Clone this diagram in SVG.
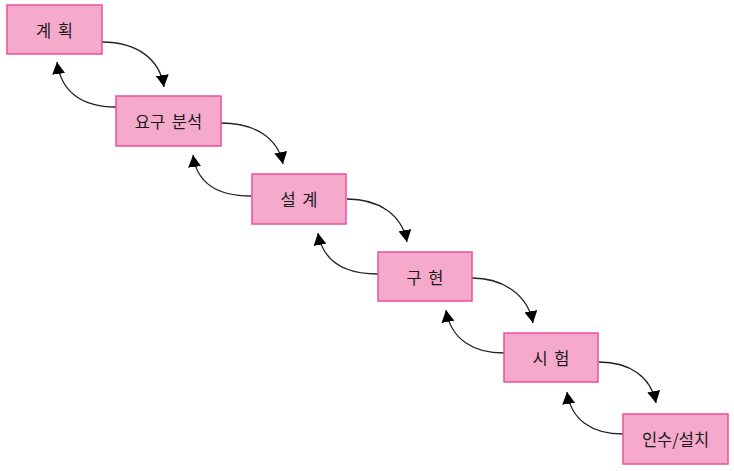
<svg xmlns="http://www.w3.org/2000/svg" width="734" height="471" viewBox="0 0 734 471">
<style>
.box{fill:#F5AACC;stroke:#EC4F9C;stroke-width:1.5}
.lbl{font-family:"Noto Sans CJK KR","Noto Sans",sans-serif;font-size:16.5px;word-spacing:3px;fill:#1a1a1a;text-anchor:middle;dominant-baseline:central}
.conn{fill:none;stroke:#222;stroke-width:1.3;marker-end:url(#ah)}
</style>
<defs>
<marker id="ah" viewBox="0 0 12 13" refX="12" refY="6.5" markerWidth="12" markerHeight="13" markerUnits="userSpaceOnUse" orient="auto">
<path d="M0,0 L12,6.5 L0,13 z" fill="#000"/>
</marker>
</defs>
<rect width="734" height="471" fill="#fff"/>
<g id="connectors">
<path class="conn" d="M102,42 C138,42 160,60 164,87"/>
<path class="conn" d="M116,107 C82,107 61,92 57,62"/>
<path class="conn" d="M221,123 C255,123 278,138 283,164"/>
<path class="conn" d="M251,196 C220,196 197,185 193,155"/>
<path class="conn" d="M347,199 C378,199 402,214 407,242"/>
<path class="conn" d="M378,274 C346,274 323,262 318,233"/>
<path class="conn" d="M472,278 C503,278 528,295 533,323"/>
<path class="conn" d="M504,353 C474,353 451,340 446,310"/>
<path class="conn" d="M599,362 C630,362 651,377 656,403"/>
<path class="conn" d="M623,434 C592,434 571,420 567,392"/>
</g>
<g id="n1"><rect class="box" x="7" y="5" width="95" height="49"/><text class="lbl" x="54.5" y="29.5">계 획</text></g>
<g id="n2"><rect class="box" x="116" y="96" width="105" height="50"/><text class="lbl" x="168.5" y="121">요구 분석</text></g>
<g id="n3"><rect class="box" x="252" y="174" width="94" height="50"/><text class="lbl" x="299" y="199">설 계</text></g>
<g id="n4"><rect class="box" x="378" y="252" width="94" height="49"/><text class="lbl" x="425" y="276.5">구 현</text></g>
<g id="n5"><rect class="box" x="504" y="333" width="94" height="49"/><text class="lbl" x="551" y="357.5">시 험</text></g>
<g id="n6"><rect class="box" x="623" y="414" width="105" height="50"/><text class="lbl" x="675.5" y="439">인수/설치</text></g>
</svg>
